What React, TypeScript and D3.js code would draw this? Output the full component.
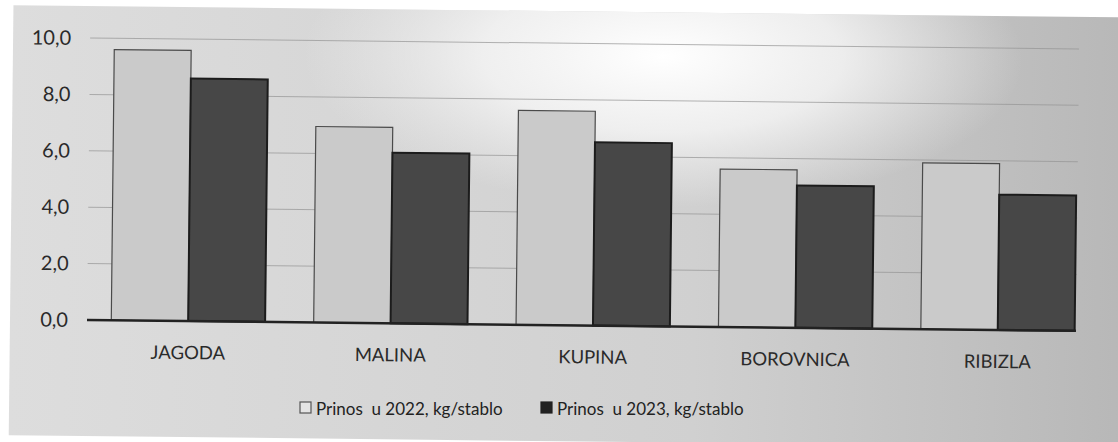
import { useEffect, useRef } from "react";
import * as d3 from "d3";

const W = 1118;
const H = 442;
const FONT = "Lato, 'Open Sans', sans-serif";

const CATEGORIES = ["JAGODA", "MALINA", "KUPINA", "BOROVNICA", "RIBIZLA"];
const YIELD_2022 = [9.6, 6.95, 7.6, 5.6, 5.9];
const YIELD_2023 = [8.6, 6.05, 6.5, 5.05, 4.8];
const SERIES_LABELS = ["Prinos  u 2022, kg/stablo", "Prinos  u 2023, kg/stablo"];
const Y_TICKS = [0, 2, 4, 6, 8, 10];

// scan is slightly tilted
const TILT = 0.63;

export default function App() {
  const svgRef = useRef<SVGSVGElement | null>(null);

  useEffect(() => {
    document.body.style.margin = "0";
    const svg = d3.select(svgRef.current);
    svg.selectAll("*").remove();

    const defs = svg.append("defs");
    const lin = defs.append("linearGradient").attr("id", "bgLin").attr("x1", 0).attr("x2", 1).attr("y1", 0).attr("y2", 0);
    lin.append("stop").attr("offset", "0%").attr("stop-color", "#dddddd");
    lin.append("stop").attr("offset", "60%").attr("stop-color", "#d0d0d0");
    lin.append("stop").attr("offset", "100%").attr("stop-color", "#b6b6b6");
    const rad = defs.append("radialGradient").attr("id", "bgGlow")
      .attr("gradientUnits", "userSpaceOnUse")
      .attr("cx", 660).attr("cy", 50).attr("r", 360)
      .attr("gradientTransform", "translate(660,50) scale(1,0.42) translate(-660,-50)");
    rad.append("stop").attr("offset", "0%").attr("stop-color", "#ffffff").attr("stop-opacity", 1);
    rad.append("stop").attr("offset", "50%").attr("stop-color", "#f6f6f6").attr("stop-opacity", 0.8);
    rad.append("stop").attr("offset", "100%").attr("stop-color", "#f0f0f0").attr("stop-opacity", 0);

    svg.append("rect").attr("width", W).attr("height", H).attr("fill", "#ffffff");

    const x0 = 87, x1 = 1099, yBase = 320, yTop = 38;
    const g = svg.append("g").attr("transform", `rotate(${TILT},${x0},${yBase})`);

    g.append("rect").attr("x", 10).attr("y", 6).attr("width", 1140).attr("height", 430).attr("fill", "url(#bgLin)");
    g.append("rect").attr("x", 10).attr("y", 6).attr("width", 1140).attr("height", 430).attr("fill", "url(#bgGlow)");

    const x = d3.scaleBand<string>().domain(CATEGORIES).range([x0, x1]).paddingInner(0.24).paddingOuter(0.12);
    const xs = d3.scaleBand<number>().domain([0, 1]).range([0, x.bandwidth()]);
    const y = d3.scaleLinear().domain([0, 10]).range([yBase, yTop]);

    // gridlines
    g.append("g").selectAll("line").data(Y_TICKS.filter(d => d > 0)).enter().append("line")
      .attr("x1", x0).attr("x2", 1076).attr("y1", d => y(d)).attr("y2", d => y(d))
      .attr("stroke", "#959595").attr("stroke-width", 1).attr("opacity", 0.7);

    // y tick labels
    g.append("g").selectAll("text").data(Y_TICKS).enter().append("text")
      .attr("x", 68).attr("y", d => y(d)).attr("dy", "0.35em")
      .attr("text-anchor", "end").attr("font-family", FONT).attr("font-size", 20)
      .attr("fill", "#2a2a2a").text(d => d3.format(".1f")(d).replace(".", ","));

    const series = [
      { values: YIELD_2022, fill: "#cacaca", stroke: "#4a4a4a" },
      { values: YIELD_2023, fill: "#474747", stroke: "#1c1c1c" },
    ];
    series.forEach((s, si) => {
      g.append("g").selectAll("rect").data(CATEGORIES).enter().append("rect")
        .attr("x", c => (x(c) as number) + (xs(si) as number))
        .attr("y", (c, i) => y(s.values[i]))
        .attr("width", xs.bandwidth())
        .attr("height", (c, i) => yBase - y(s.values[i]))
        .attr("fill", s.fill).attr("stroke", s.stroke).attr("stroke-width", si === 0 ? 1.2 : 2);
    });

    // axis line
    g.append("line").attr("x1", x0).attr("x2", 1076).attr("y1", yBase).attr("y2", yBase)
      .attr("stroke", "#222").attr("stroke-width", 2.5);

    // category labels
    g.append("g").selectAll("text").data(CATEGORIES).enter().append("text")
      .attr("x", c => (x(c) as number) + x.bandwidth() / 2)
      .attr("y", 358).attr("text-anchor", "middle")
      .attr("font-family", FONT).attr("font-size", 18.5).attr("fill", "#2a2a2a").text(c => c);

    // legend
    const leg = svg.append("g");
    const items = [
      { x: 300, label: SERIES_LABELS[0], fill: "#e4e4e4", stroke: "#555" },
      { x: 541, label: SERIES_LABELS[1], fill: "#222", stroke: "#222" },
    ];
    items.forEach(it => {
      leg.append("rect").attr("x", it.x).attr("y", 402).attr("width", 11).attr("height", 11)
        .attr("fill", it.fill).attr("stroke", it.stroke).attr("stroke-width", 1.2);
      leg.append("text").attr("x", it.x + 16).attr("y", 415)
        .attr("font-family", FONT).attr("font-size", 17).attr("fill", "#222")
        .style("white-space", "pre").text(it.label);
    });
  }, []);

  return <svg ref={svgRef} width={W} height={H} style={{ display: "block" }} />;
}
